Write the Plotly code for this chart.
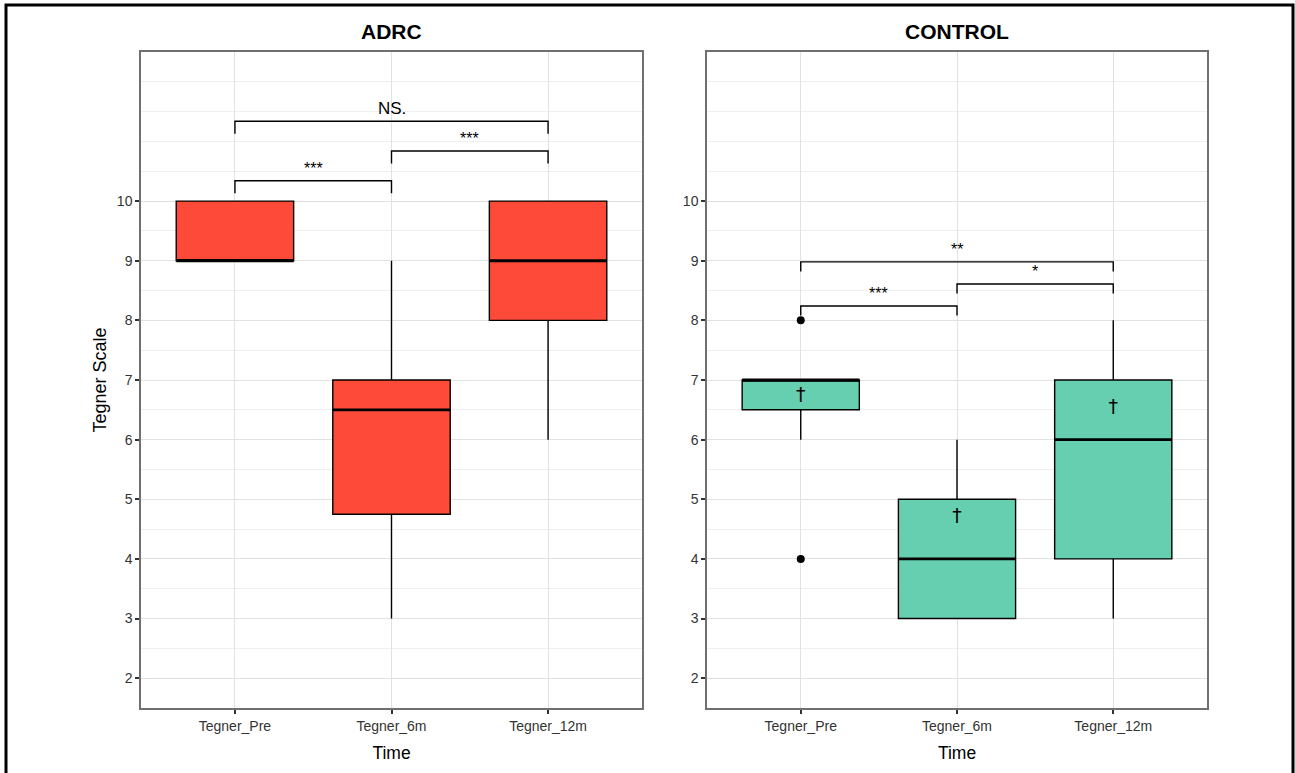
import plotly.graph_objects as go

categories = ["Tegner_Pre", "Tegner_6m", "Tegner_12m"]
y_ticks = [2, 3, 4, 5, 6, 7, 8, 9, 10]

# ADRC group box statistics
adrc_q1 = [9, 4.75, 8]
adrc_median = [9, 6.5, 9]
adrc_q3 = [10, 7, 10]
adrc_low = [9, 3, 6]
adrc_high = [10, 9, 10]

# CONTROL group box statistics
ctrl_q1 = [6.5, 3, 4]
ctrl_median = [7, 4, 6]
ctrl_q3 = [7, 5, 7]
ctrl_low = [6, 3, 3]
ctrl_high = [7, 6, 8]
ctrl_mean = [6.72, 4.7, 6.53]
ctrl_outlier_cat = [0, 0]
ctrl_outlier_val = [8, 4]

# significance brackets: (from index, to index, height, label)
adrc_brackets = [(0, 1, 10.34, "***"), (1, 2, 10.84, "***"), (0, 2, 11.34, "NS.")]
ctrl_brackets = [(0, 1, 8.24, "***"), (1, 2, 8.61, "*"), (0, 2, 8.98, "**")]

W, H = 1295, 773
BOX_W = 0.75
RED = "#fe4b39"
TEAL = "#66cfb0"
FONT = "Liberation Sans"

fig = go.Figure()
xpos = list(range(len(categories)))


def add_panel(xa, ya, q1, med, q3, lo, hi, color):
    fig.add_trace(go.Box(
        x=xpos, q1=q1, median=med, q3=q3, lowerfence=lo, upperfence=hi,
        fillcolor=color, line=dict(color="black", width=1.4), width=BOX_W,
        whiskerwidth=0, boxpoints=False, xaxis=xa, yaxis=ya, showlegend=False,
        hoverinfo="skip"))
    for i, m in enumerate(med):
        fig.add_trace(go.Scatter(
            x=[xpos[i] - BOX_W / 2, xpos[i] + BOX_W / 2], y=[m, m], mode="lines",
            line=dict(color="black", width=2.8), xaxis=xa, yaxis=ya,
            showlegend=False, hoverinfo="skip"))


def add_brackets(xa, ya, brackets, drop):
    for a, b, h, lab in brackets:
        fig.add_trace(go.Scatter(
            x=[a, a, b, b], y=[h - drop, h, h, h - drop], mode="lines",
            line=dict(color="black", width=1.4), xaxis=xa, yaxis=ya,
            showlegend=False, hoverinfo="skip"))
        is_star = lab.startswith("*")
        fig.add_annotation(
            x=(a + b) / 2, y=h, xref=xa, yref=ya.replace("axis", ""),
            text=lab, showarrow=False, yanchor="bottom", xanchor="center",
            yshift=(2 if is_star else 1),
            font=dict(family=FONT, size=(16 if is_star else 17), color="black"))


add_panel("x", "y", adrc_q1, adrc_median, adrc_q3, adrc_low, adrc_high, RED)
add_panel("x2", "y2", ctrl_q1, ctrl_median, ctrl_q3, ctrl_low, ctrl_high, TEAL)

fig.add_trace(go.Scatter(
    x=ctrl_outlier_cat, y=ctrl_outlier_val, mode="markers",
    marker=dict(color="black", size=8), xaxis="x2", yaxis="y2",
    showlegend=False, hoverinfo="skip"))
fig.add_trace(go.Scatter(
    x=xpos, y=ctrl_mean, mode="text", text=["†"] * len(xpos),
    textfont=dict(family="DejaVu Sans", size=19, color="black"),
    textposition="middle center", xaxis="x2", yaxis="y2",
    showlegend=False, hoverinfo="skip"))

add_brackets("x", "y", adrc_brackets, 0.21)
add_brackets("x2", "y2", ctrl_brackets, 0.16)

dom1 = [141 / W, 642 / W]
dom2 = [707 / W, 1207 / W]
ydom = [1 - 708 / H, 1 - 52 / H]

common_x = dict(
    range=[-0.6, 2.6], tickvals=xpos, ticktext=categories,
    showgrid=True, gridcolor="#e2e2e2", gridwidth=1, zeroline=False,
    showline=True, linecolor="#707070", linewidth=1.5, mirror=True,
    ticks="outside", ticklen=4, tickcolor="#333333", tickwidth=1.5,
    tickfont=dict(family=FONT, size=14, color="#333333"),
    title=dict(text="Time", font=dict(family=FONT, size=17.5, color="black"), standoff=14),
)
common_y = dict(
    range=[1.5, 12.5], tickvals=y_ticks, ticktext=[str(v) for v in y_ticks],
    showgrid=True, gridcolor="#e2e2e2", gridwidth=1, zeroline=False,
    showline=True, linecolor="#707070", linewidth=1.5, mirror=True,
    ticks="outside", ticklen=4, tickcolor="#333333", tickwidth=1.5,
    tickfont=dict(family=FONT, size=14, color="#333333"),
    minor=dict(dtick=0.5, tick0=0, showgrid=True, gridcolor="#efefef", gridwidth=1, ticks=""),
    domain=ydom,
)

fig.update_layout(
    width=W, height=H, margin=dict(l=0, r=0, t=0, b=0, pad=0),
    paper_bgcolor="white", plot_bgcolor="white",
    xaxis=dict(domain=dom1, anchor="y", **common_x),
    xaxis2=dict(domain=dom2, anchor="y2", **common_x),
    yaxis=dict(anchor="x", title=dict(text="Tegner Scale", font=dict(family=FONT, size=18, color="black"), standoff=6), **common_y),
    yaxis2=dict(anchor="x2", **common_y),
    showlegend=False,
)

for dom, txt in [(dom1, "ADRC"), (dom2, "CONTROL")]:
    fig.add_annotation(
        x=(dom[0] + dom[1]) / 2, y=1 - 32 / H, xref="paper", yref="paper",
        text="<b>" + txt + "</b>", showarrow=False, yanchor="middle", xanchor="center",
        font=dict(family=FONT, size=21, color="black"))

# outer black frame
fig.add_shape(type="rect", xref="paper", yref="paper",
              x0=6 / W, x1=1293 / W, y0=-0.02, y1=1 - 5 / H,
              line=dict(color="black", width=3), fillcolor="rgba(0,0,0,0)", layer="above")

fig.write_html("out.html", config={"displayModeBar": False},
               post_script="document.body.style.margin='0px';document.body.style.overflow='hidden';")
